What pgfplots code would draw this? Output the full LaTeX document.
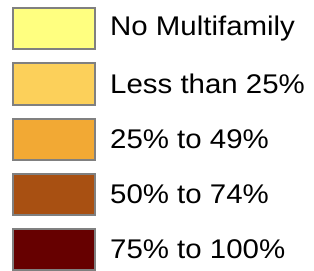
\documentclass[border=0pt]{standalone}
\usepackage{pgfplots}
\pgfplotsset{compat=1.18}
\usepackage{fontspec}
\setmainfont{Liberation Sans}
\definecolor{c1}{HTML}{FFFF80}
\definecolor{c2}{HTML}{FCD05A}
\definecolor{c3}{HTML}{F2A934}
\definecolor{c4}{HTML}{A85012}
\definecolor{c5}{HTML}{660000}
\definecolor{bord}{HTML}{808080}
\newcommand{\lbl}[1]{\scalebox{1.09}[1]{#1}}
\begin{document}
\begin{tikzpicture}[x=1bp,y=1bp]
\begin{axis}[scale only axis, width=314bp, height=270bp,
  xmin=0, xmax=314, ymin=0, ymax=270, axis lines=none, clip=false,
  every axis plot/.append style={draw=bord, line width=1.3bp}]
\addplot[fill=c1] coordinates {(13,262) (95,262) (95,221) (13,221)} -- cycle;
\addplot[fill=c2] coordinates {(13,207) (95,207) (95,165) (13,165)} -- cycle;
\addplot[fill=c3] coordinates {(13,151) (95,151) (95,110) (13,110)} -- cycle;
\addplot[fill=c4] coordinates {(13,96) (95,96) (95,55) (13,55)} -- cycle;
\addplot[fill=c5] coordinates {(13,41) (95,41) (95,0) (13,0)} -- cycle;
\path (axis cs:0,0) rectangle (axis cs:314,270);
\begin{scope}[every node/.style={anchor=west, inner sep=0pt, font=\fontsize{27bp}{30bp}\selectfont}]
\node at (axis cs:110,241.5) {\lbl{No Multifamily}};
\node at (axis cs:110,186) {\lbl{Less than 25\%}};
\node at (axis cs:110,130.5) {\lbl{25\% to 49\%}};
\node at (axis cs:110,75.5) {\lbl{50\% to 74\%}};
\node at (axis cs:110,20.5) {\lbl{75\% to 100\%}};
\end{scope}
\end{axis}
\end{tikzpicture}
\end{document}
